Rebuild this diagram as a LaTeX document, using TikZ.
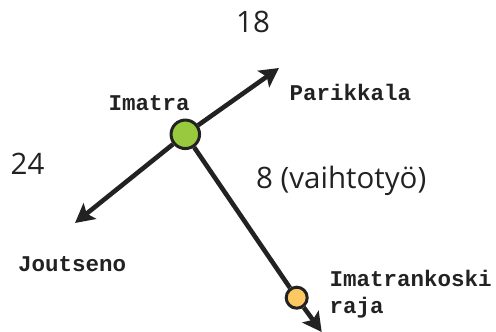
\documentclass[tikz,border=0pt]{standalone}
\usepackage{fontspec}
\setmainfont{Open Sans}
\newfontfamily\monob{Liberation Mono}[BoldFont={* Bold}]
\usetikzlibrary{arrows.meta}
\definecolor{lineblk}{HTML}{222222}
\definecolor{stgreen}{HTML}{99C93C}
\definecolor{storange}{HTML}{FCC862}
\tikzset{
  conn/.style={draw=lineblk, line width=4.6pt},
  arr/.style={conn, -{Stealth[length=19pt,width=20pt,inset=4pt]}},
  station/.style={circle, draw=lineblk, line width=3pt, inner sep=0pt},
  lbl/.style={font=\monob\bfseries\fontsize{22.5}{27}\selectfont, inner sep=0pt, anchor=base west, text=lineblk},
  num/.style={font=\fontsize{29.5}{34}\selectfont, inner sep=0pt, anchor=base west, text=lineblk}
}
\begin{document}
\begin{tikzpicture}[x=1pt,y=-1pt]
\useasboundingbox (0,0) rectangle (496,332);
\node[station, fill=stgreen, minimum size=28.5pt] (imatra) at (185.3,134.3) {};
\node[station, fill=storange, minimum size=21pt] (raja) at (296.7,297.7) {};
\coordinate (ptip) at (279,68);
\coordinate (jtip) at (75,223);
\coordinate (btip) at (321.7,332);
\draw[arr] (imatra) -- (ptip);
\draw[arr] (imatra) -- (jtip);
\draw[conn] (imatra) -- (raja);
\draw[arr] (raja) -- (btip);
\node[lbl] (limatra) at (108.5,110) {Imatra};
\node[lbl] (lpar) at (289.5,100.7) {Parikkala};
\node[lbl] (ljou) at (18,271) {Joutseno};
\node[lbl] (lik) at (329.5,286.7) {Imatrankoski};
\node[lbl] (lraja) at (329.5,313) {raja};
\node[num] (n18) at (236,32.7) {18};
\node[num] (n24) at (10.5,174.3) {24};
\node[num] (n8) at (256,188.3) {8 (vaihtotyö)};
\end{tikzpicture}
\end{document}
